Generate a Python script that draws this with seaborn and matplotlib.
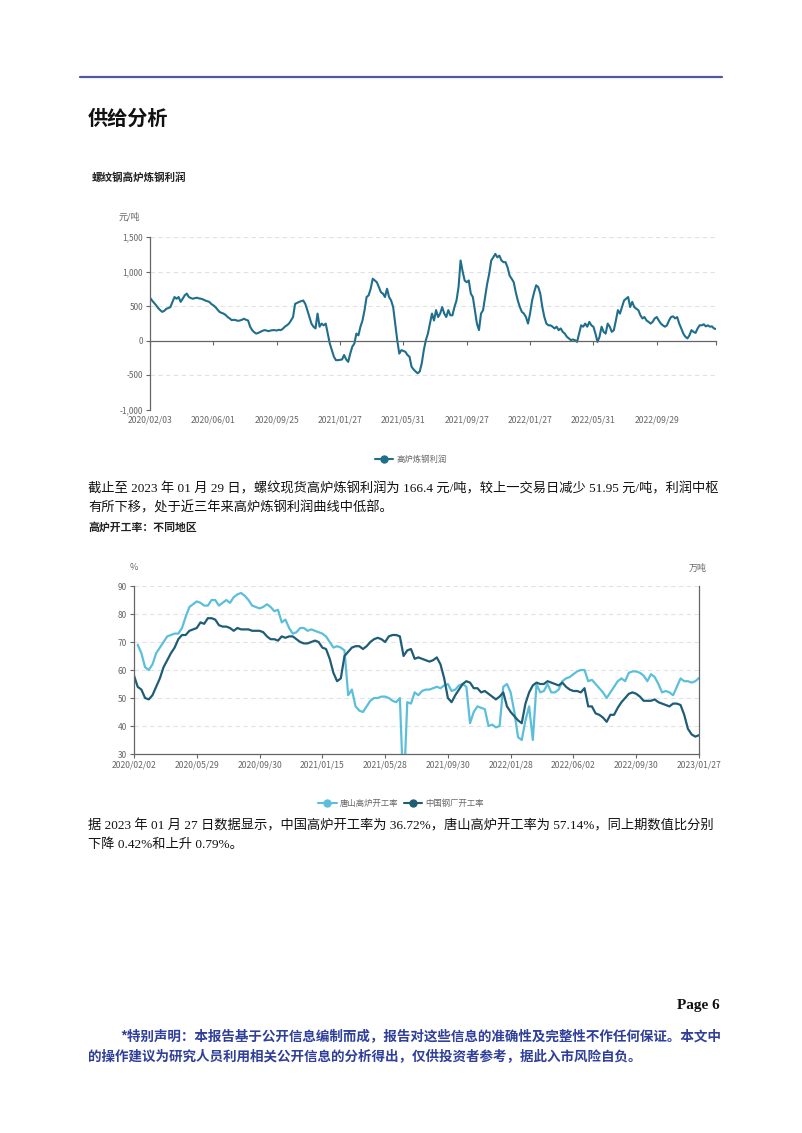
import numpy as np
import pandas as pd
import matplotlib
matplotlib.use("Agg")
import matplotlib.pyplot as plt
import seaborn as sns
from matplotlib.lines import Line2D

# ---------------- data ----------------
profit_dates = ["2020/02/03", "2020/06/01", "2020/09/25", "2021/01/27", "2021/05/31",
                "2021/09/27", "2022/01/27", "2022/05/31", "2022/09/29"]
profit = [
    620, 580, 545, 510, 470, 440, 415, 430, 460, 470, 485, 560, 630, 605, 630, 560, 605, 655, 680, 630,
    615, 605, 615, 620, 610, 605, 595, 580, 570, 560, 530,
    510, 485, 450, 415, 400, 390, 370, 340, 320, 295, 300, 295, 285, 290, 300, 315, 300, 290, 200, 150,
    120, 100, 110, 125, 140, 150, 145, 135, 145, 150, 150,
    145, 155, 150, 170, 200, 220, 245, 290, 340, 530, 545, 560, 570, 580, 530, 440, 340, 245, 200, 175,
    390, 200, 245, 220, 245, 100, -45, -140, -235, -285, -285,
    -280, -275, -210, -275, -310, -190, -90, -45, 100, 75, 200, 290, 440, 630, 655, 750, 895, 870, 845,
    775, 700, 680, 630, 750, 630, 580, 485, 245, 5, -190, -140,
    -150, -165, -210, -235, -380, -420, -450, -475, -450, -330, -140, 5, 100, 245, 390, 290, 440, 340,
    390, 485, 390, 340, 440, 365, 365, 485, 580, 775, 1160, 1000, 870,
    845, 870, 680, 630, 440, 245, 150, 390, 440, 630, 820, 965, 1160, 1205, 1255, 1205, 1230, 1160,
    1135, 1135, 1060, 940, 895, 845, 700, 580, 485, 415, 390, 340, 245,
    390, 580, 700, 800, 775, 680, 485, 340, 245, 220, 220, 200, 175, 200, 150, 175, 125, 100, 55, 30,
    5, 15, 5, -20, 100, 220, 200, 245, 200, 270, 220,
    200, 100, -20, 55, 200, 125, 100, 245, 200, 125, 150, 290, 440, 390, 485, 580, 605, 630, 485, 560,
    485, 460, 440, 365, 320, 340, 290, 270, 245, 270, 320,
    340, 290, 245, 220, 200, 220, 290, 340, 350, 320, 340, 245, 175, 100, 55, 30, 75, 150, 125, 110,
    175, 220, 220, 235, 205, 220, 200, 205, 175, 166.4,
]
profit_tick_step = 31

rate_dates = ["2020/02/02", "2020/05/29", "2020/09/30", "2021/01/15", "2021/05/28",
              "2021/09/30", "2022/01/28", "2022/06/02", "2022/09/30", "2023/01/27"]
rate_tick_step = 17
tangshan = [
    np.nan, 69, 66, 61, 60, 62, 66, 68, 70, 72, 72.5, 73, 73, 75, 79, 82.5, 83.5, 84.5, 84, 83,
    83, 85, 85, 83, 84, 85, 84, 86, 87, 87.5, 86.5, 85, 83, 82.5, 82, 82.5, 83.5, 82.5, 81, 81.5,
    77, 78, 75, 73, 73.5, 75, 75, 74, 74.5, 74, 73.5, 73, 72, 70, 68, 68.5, 68, 67, 51, 53,
    47, 45.5, 45, 47, 49, 50, 50, 50.5, 50.5, 50, 49, 48.5, 50, 15, 48.5, 48, 52, 51, 52.5, 53,
    53, 53.5, 54, 53.5, 54.5, 55, 52.5, 53, 54.5, 55, 54, 41, 45, 47, 46.5, 46, 40, 40.5, 39.5, 40,
    54, 55, 52, 45, 36, 35, 42, 47, 35, 55, 52, 52.5, 55, 52, 52, 53, 56, 57, 57.5, 58.5,
    59.5, 60, 60, 56, 56.5, 55, 53.5, 52, 50, 52, 54, 56, 57, 56, 59, 59.5, 59.5, 59, 58, 56,
    58.5, 57.5, 55, 52, 52.5, 52, 51, 54, 57, 56, 56, 55.5, 56, 57.14,
]
china = [
    58, 54, 53, 50, 49.5, 51, 54, 57, 61, 63.5, 66, 68, 71, 72.5, 72.5, 74, 74.5, 75, 77, 76.5,
    78.5, 78.5, 78, 76, 75.5, 75.5, 75, 74, 75, 74.5, 74.5, 74.5, 74, 74, 74, 73.5, 72, 71, 71, 70.5,
    72, 71.5, 72, 72, 71, 70, 69.5, 69.5, 70, 70.5, 70, 68, 67.5, 64, 59, 56, 57, 65, 66.5, 68,
    68.5, 68.5, 67.5, 68.5, 70, 71, 71.5, 71, 70, 72, 72.5, 72.5, 72, 65, 67, 67.5, 64, 64.5, 64, 63.5,
    63, 63.5, 64.5, 62, 57, 50, 48.5, 51, 53, 55, 56, 55.5, 53.5, 53.5, 52, 52.5, 51.5, 50.5, 49.5, 50.5,
    52, 47, 45, 43.5, 42, 41, 48, 52, 54.5, 55.5, 55, 55, 56, 55.5, 55, 54.5, 55.5, 54, 53, 52.5,
    52.5, 52, 53.5, 47, 47, 44.5, 44, 43, 41.5, 44, 44, 46.5, 48.5, 50, 51.5, 52, 51.5, 50.5, 49, 49,
    49, 49.5, 48.5, 48, 47.5, 47, 48, 48, 47.5, 44, 39, 37, 36.2, 36.72,
]
series_names = ["唐山高炉开工率", "中国钢厂开工率"]

# ---------------- style ----------------
sns.set_theme(style="white")
plt.rcParams["font.family"] = ["Noto Sans CJK SC", "DejaVu Sans"]
plt.rcParams["axes.unicode_minus"] = False

W, H = 802, 1133
fig = plt.figure(figsize=(W / 100, H / 100), dpi=100)
fig.patch.set_facecolor("white")


def fxy(x, y):
    return x / W, 1 - y / H


GREY = "#666666"
PROFIT_C = "#1f6e8c"
LIGHT_C = "#5bbfdb"
DARK_C = "#1f5d76"
GRID_C = "#e2e2e2"
SERIF = ["Liberation Serif", "Noto Sans CJK SC"]

# page header line
fig.add_artist(Line2D([80 / W, 722 / W], [1 - 77 / H] * 2, color="#4b5b9c", lw=1.6))
fig.text(*fxy(88, 118), "供给分析", fontsize=14.5, fontweight="bold", va="center", ha="left", color="#111111")

# ---------------- chart 1 ----------------
fig.text(*fxy(92, 178), "螺纹钢高炉炼钢利润", fontsize=7.6, fontweight="bold", va="center", color="#222222")
fig.text(*fxy(129, 217), "元/吨", fontsize=6.5, va="center", ha="center", color=GREY)

ax1 = fig.add_axes([150 / W, 1 - 409.5 / H, 566 / W, 172.5 / H])
df1 = pd.DataFrame({"idx": np.arange(len(profit)), "profit": profit})
sns.lineplot(data=df1, x="idx", y="profit", ax=ax1, color=PROFIT_C, lw=1.5)
n1 = len(profit)
ax1.set_xlim(0, n1 - 1)
ax1.set_ylim(-1000, 1500)
ax1.set_yticks([-1000, -500, 0, 500, 1000, 1500])
ax1.set_yticklabels([f"{v:,}" for v in [-1000, -500, 0, 500, 1000, 1500]])
ax1.set_xlabel("")
ax1.set_ylabel("")
ax1.yaxis.grid(True, ls=(0, (4, 3)), color=GRID_C, lw=0.8)
ax1.xaxis.grid(False)
ax1.set_axisbelow(True)
for s in ["top", "right"]:
    ax1.spines[s].set_visible(False)
ax1.spines["left"].set_color(GREY)
ax1.spines["left"].set_linewidth(0.9)
ax1.spines["bottom"].set_position(("data", 0))
ax1.spines["bottom"].set_color(GREY)
ax1.spines["bottom"].set_linewidth(0.9)
tick_pos1 = [i * profit_tick_step for i in range(len(profit_dates))]
ax1.set_xticks(tick_pos1 + [n1 - 1])
ax1.tick_params(axis="x", direction="out", length=3, width=0.8, color=GREY, labelbottom=False, bottom=True)
ax1.tick_params(axis="y", direction="out", length=3, width=0.8, color=GREY, labelsize=6, labelcolor=GREY, pad=2, left=True)
sec = ax1.secondary_xaxis("bottom")
sec.set_xticks(tick_pos1)
sec.set_xticklabels(profit_dates)
sec.tick_params(length=0, labelsize=6.2, labelcolor=GREY, pad=4)
sec.spines["bottom"].set_visible(False)

# legend chart 1
h1 = Line2D([], [], color=PROFIT_C, lw=1.5, marker="o", markersize=5)
fig.legend(handles=[h1], labels=["高炉炼钢利润"], loc="center", bbox_to_anchor=fxy(411, 459),
           frameon=False, fontsize=6, labelcolor=GREY, handlelength=2.2, handletextpad=0.4)

# paragraph 1
fig.text(*fxy(88, 489), "截止至 2023 年 01 月 29 日，螺纹现货高炉炼钢利润为 166.4 元/吨，较上一交易日减少 51.95 元/吨，利润中枢",
         fontsize=9.55, family=SERIF, va="center", color="#111111")
fig.text(*fxy(88, 508), "有所下移，处于近三年来高炉炼钢利润曲线中低部。",
         fontsize=9.55, family=SERIF, va="center", color="#111111")

# ---------------- chart 2 ----------------
fig.text(*fxy(88, 527), "高炉开工率：不同地区", fontsize=7.8, fontweight="bold", va="center", color="#222222")
fig.text(*fxy(134, 568), "%", fontsize=6.5, va="center", ha="center", color=GREY)
fig.text(*fxy(698, 568), "万吨", fontsize=6.5, va="center", ha="center", color=GREY)

ax2 = fig.add_axes([134 / W, 1 - 754 / H, 565 / W, 168 / H])
n2 = len(china)
df2 = pd.DataFrame({
    "idx": np.concatenate([np.arange(n2), np.arange(n2)]),
    "rate": np.concatenate([np.array(tangshan, float), np.array(china, float)]),
    "series": [series_names[0]] * n2 + [series_names[1]] * n2,
})
sns.lineplot(data=df2, x="idx", y="rate", hue="series", palette=[LIGHT_C, DARK_C],
             ax=ax2, lw=1.6, legend=False)
ax2.set_xlim(0, n2 - 1)
ax2.set_ylim(30, 90)
ax2.set_yticks(range(30, 91, 10))
ax2.set_xlabel("")
ax2.set_ylabel("")
ax2.yaxis.grid(True, ls=(0, (4, 3)), color=GRID_C, lw=0.8)
ax2.xaxis.grid(False)
ax2.set_axisbelow(True)
ax2.spines["top"].set_visible(False)
for s in ["left", "right", "bottom"]:
    ax2.spines[s].set_color(GREY)
    ax2.spines[s].set_linewidth(0.9)
tick_pos2 = [i * rate_tick_step for i in range(len(rate_dates))]
ax2.set_xticks(tick_pos2)
ax2.set_xticklabels(rate_dates)
ax2.tick_params(axis="x", direction="out", length=3, width=0.8, color=GREY, labelsize=6.2, labelcolor=GREY, pad=2, bottom=True)
ax2.tick_params(axis="y", direction="out", length=3, width=0.8, color=GREY, labelsize=6, labelcolor=GREY, pad=2, left=True)

hs = [Line2D([], [], color=LIGHT_C, lw=1.5, marker="o", markersize=5),
      Line2D([], [], color=DARK_C, lw=1.5, marker="o", markersize=5)]
fig.legend(handles=hs, labels=series_names, loc="center", bbox_to_anchor=fxy(401, 803), ncol=2,
           frameon=False, fontsize=6, labelcolor=GREY, handlelength=2.2, handletextpad=0.4, columnspacing=0.6)

fig.text(*fxy(88, 826), "据 2023 年 01 月 27 日数据显示，中国高炉开工率为 36.72%，唐山高炉开工率为 57.14%，同上期数值比分别",
         fontsize=9.55, family=SERIF, va="center", color="#111111")
fig.text(*fxy(88, 845), "下降 0.42%和上升 0.79%。", fontsize=9.55, family=SERIF, va="center", color="#111111")

# ---------------- footer ----------------
fig.text(*fxy(720, 1005), "Page 6", fontsize=11, family=["Liberation Serif"], fontweight="bold",
         ha="right", va="center", color="#111111")
BLUE = "#2f3f9a"
fig.text(*fxy(120, 1037), "*特别声明：本报告基于公开信息编制而成，报告对这些信息的准确性及完整性不作任何保证。本文中",
         fontsize=9.75, fontweight="bold", va="center", color=BLUE)
fig.text(*fxy(88, 1056), "的操作建议为研究人员利用相关公开信息的分析得出，仅供投资者参考，据此入市风险自负。",
         fontsize=9.75, fontweight="bold", va="center", color=BLUE)

fig.savefig("out.png", dpi=100, facecolor="white")
